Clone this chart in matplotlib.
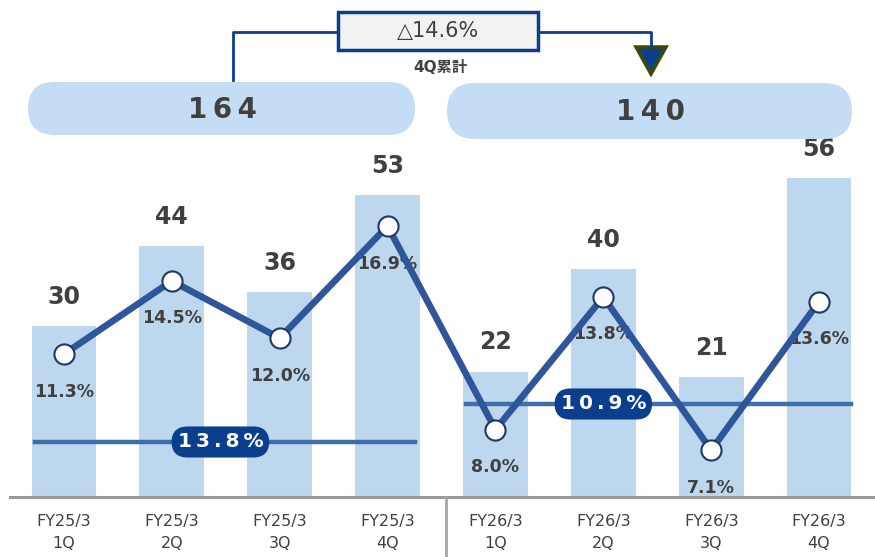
import matplotlib
matplotlib.use("Agg")
import matplotlib.pyplot as plt
from matplotlib.patches import FancyBboxPatch, Polygon

plt.rcParams['font.family'] = ['DejaVu Sans', 'Noto Sans CJK JP']

# data
quarters = ['FY25/3\n1Q', 'FY25/3\n2Q', 'FY25/3\n3Q', 'FY25/3\n4Q',
            'FY26/3\n1Q', 'FY26/3\n2Q', 'FY26/3\n3Q', 'FY26/3\n4Q']
amounts = [30, 44, 36, 53, 22, 40, 21, 56]
margins = [11.3, 14.5, 12.0, 16.9, 8.0, 13.8, 7.1, 13.6]
avg_margin = [13.8, 10.9]
totals = [164, 140]
change_label = '△14.6%'
total_caption = '4Q累計'

bar_color = '#bdd7ee'
line_color = '#2f559a'
navy = '#0b3f8e'
text_color = '#404040'
thin = '\u2009'


def spaced(s):
    return thin.join(s)


W, H = 875, 557
fig = plt.figure(figsize=(W / 100, H / 100), dpi=100)

# main bar axes (bottom of axes = baseline at y=497 px)
ax = fig.add_axes([10 / W, 60 / H, 863 / W, 497 / H])
x = list(range(len(quarters)))
ax.bar(x, amounts, width=0.6, color=bar_color, zorder=1)
ax.set_xlim(-0.5, 7.5)
ax.set_ylim(0, 497 / 5.7)
for s in ['top', 'left', 'right']:
    ax.spines[s].set_visible(False)
ax.spines['bottom'].set_color('#999999')
ax.spines['bottom'].set_linewidth(2.2)
ax.set_yticks([])
ax.set_xticks(x)
ax.set_xticklabels(quarters, fontsize=11.5, color=text_color, linespacing=1.6)
ax.tick_params(axis='x', length=0, pad=12)
for xi, v in zip(x, amounts):
    ax.annotate(str(v), (xi, v), xytext=(0, 21), textcoords='offset points',
                ha='center', va='center', fontsize=17, fontweight='bold',
                color=text_color)

# average margin lines (placed on their own scale, as in the original)
ax3 = ax.twinx()
ax3.set_ylim(18.0, -19.94)
ax3.axis('off')
spans = [(-0.27, 3.25), (3.73, 7.3)]
label_x = [1.45, 5.0]
for (x0, x1), v, lx in zip(spans, avg_margin, label_x):
    ax3.plot([x0, x1], [v, v], color='#3f6fa8', lw=3.2, zorder=2)
    ax3.text(lx, v, spaced(f'{v:.1f}%'), ha='center', va='center', fontsize=14.5,
             fontweight='bold', color='white', zorder=3,
             bbox=dict(boxstyle='round,pad=0.3,rounding_size=0.8',
                       fc=navy, ec='none'))

# margin line
ax2 = ax.twinx()
ax2.set_ylim(5.05, 5.05 + 497 / 22.86)
ax2.axis('off')
ax2.plot(x, margins, color=line_color, lw=4.8, marker='o', markersize=14.5,
         markerfacecolor='white', markeredgecolor='#1f3864',
         markeredgewidth=1.5, zorder=4)
for xi, m in zip(x, margins):
    ax2.annotate(f'{m:.1f}%', (xi, m), xytext=(0, -27), textcoords='offset points',
                 ha='center', va='center', fontsize=12.5, fontweight='bold',
                 color=text_color)

# overlay in pixel coordinates for the header decorations
ov = fig.add_axes([0, 0, 1, 1])
ov.set_xlim(0, W)
ov.set_ylim(H, 0)
ov.axis('off')

ov.plot([446, 446], [497, 557], color='#a6a6a6', lw=2)

for (x0, x1), y0, y1, t, tx in [((28, 415), 82, 135, totals[0], 222),
                                  ((447, 852), 83, 139, totals[1], 650)]:
    h = y1 - y0
    ov.add_patch(FancyBboxPatch((x0, y0), x1 - x0, h,
                                boxstyle=f'round,pad=0,rounding_size={h / 2}',
                                fc='#c5ddf4', ec='none'))
    ov.text(tx, (y0 + y1) / 2 + 1, spaced(str(t)), ha='center', va='center',
            fontsize=20, fontweight='bold', color=text_color)

ov.plot([233, 233, 338], [80, 32, 32], color=navy, lw=2)
ov.plot([538, 651, 651], [32, 32, 46], color=navy, lw=2)
ov.add_patch(FancyBboxPatch((338, 12), 200, 38, boxstyle='square,pad=0',
                            fc='#f2f2f2', ec=navy, lw=2.5))
ov.text(438, 31, change_label, ha='center', va='center', fontsize=15,
        color=text_color)
ov.text(440, 68, total_caption, ha='center', va='center', fontsize=11,
        fontweight='bold', color=text_color)
ov.add_patch(Polygon([[636, 47], [666, 47], [651, 74]], closed=True,
                     fc=navy, ec='#3b4a05', lw=2.5))

fig.savefig('out.png', dpi=100)
